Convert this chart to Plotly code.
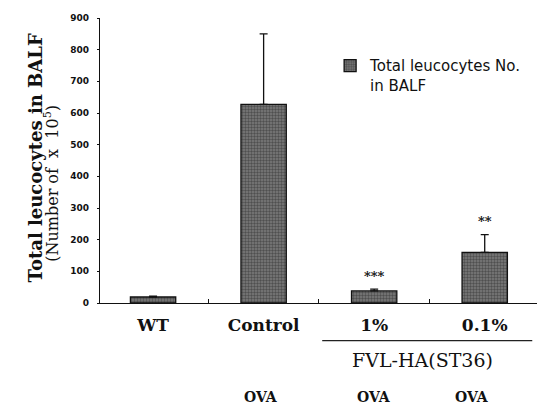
import plotly.graph_objects as go

categories = ["WT", "Control", "1%", "0.1%"]
values = [19, 627, 38, 160]
err_up = [3, 223, 6, 56]
signif = ["", "", "***", "**"]
ova_labels = ["", "OVA", "OVA", "OVA"]
yticks = [0, 100, 200, 300, 400, 500, 600, 700, 800, 900]

xpos = list(range(len(categories)))
ova_xshift = [0, -3, 0, -13]

fig = go.Figure()
fig.add_trace(go.Bar(
    x=xpos, y=values, width=0.41,
    name="Total leucocytes No.<br>in BALF",
    marker=dict(color="#6a6a6a", line=dict(color="#111", width=1.3),
                pattern=dict(shape=".", fgcolor="#222", bgcolor="#7c7c7c", size=3, solidity=0.5)),
    error_y=dict(type="data", symmetric=False, array=err_up, arrayminus=[0] * 4,
                 color="#111", thickness=1.3, width=4),
))

# significance markers
for x, v, e, s in zip(xpos, values, err_up, signif):
    if s:
        fig.add_annotation(x=x, y=v + e, text="<b>" + s + "</b>", showarrow=False, yshift=13,
                           font=dict(family="DejaVu Serif", size=13, color="#111"))

# OVA row
for x, s, dx in zip(xpos, ova_labels, ova_xshift):
    if s:
        fig.add_annotation(x=x, y=0, text="<b>" + s + "</b>", showarrow=False,
                           xshift=dx, yshift=-94,
                           font=dict(family="DejaVu Serif", size=14, color="#111"))

# FVL-HA group label and line
fig.add_shape(type="line", xref="x", yref="paper", x0=1.53, x1=3.43, y0=-0.132, y1=-0.132,
              line=dict(color="#222", width=1.2))
fig.add_annotation(x=2.44, y=0, text="FVL-HA(ST36)", showarrow=False, yshift=-57,
                   font=dict(family="DejaVu Serif", size=19, color="#111"))

# y-axis title (two tightly spaced lines)
fig.add_annotation(xref="paper", yref="paper", x=0, y=0.509, xshift=-77, textangle=-90,
                   text="<b>Total leucocytes in BALF</b>", showarrow=False,
                   font=dict(family="DejaVu Serif", size=18, color="#111"))
fig.add_annotation(xref="paper", yref="paper", x=0, y=0.42, xshift=-61, textangle=-90,
                   text="(Number of  x  10<sup>5</sup>)", showarrow=False,
                   font=dict(family="DejaVu Serif", size=16, color="#111"))

fig.update_layout(
    width=537, height=399,
    margin=dict(l=92, r=5, t=8, b=104),
    paper_bgcolor="white", plot_bgcolor="white",
    showlegend=True,
    legend=dict(x=0.523, y=0.89, xanchor="left", yanchor="top", bgcolor="rgba(0,0,0,0)",
                font=dict(family="DejaVu Sans", size=15, color="#111"),
                itemwidth=30, valign="top"),
    xaxis=dict(range=[-0.48, 3.5], tickvals=xpos,
               ticktext=["<b>" + c + "</b>" for c in categories],
               tickfont=dict(family="DejaVu Serif", size=17, color="#111"),
               showline=True, linecolor="#111", linewidth=1.3, showgrid=False, zeroline=False,
               ticks="", ticklabelstandoff=6,
               minor=dict(ticks="inside", tick0=0.5, dtick=1, ticklen=4, tickcolor="#111")),
    yaxis=dict(range=[0, 900], tickvals=yticks, ticktext=["<b>%d</b>" % t for t in yticks],
               tickfont=dict(family="DejaVu Sans", size=9, color="#111"),
               showline=True, linecolor="#111", linewidth=1.3, showgrid=False, zeroline=False,
               ticks="outside", ticklen=2, tickcolor="#111", ticklabelstandoff=6),
)

fig.write_html("out.html")
